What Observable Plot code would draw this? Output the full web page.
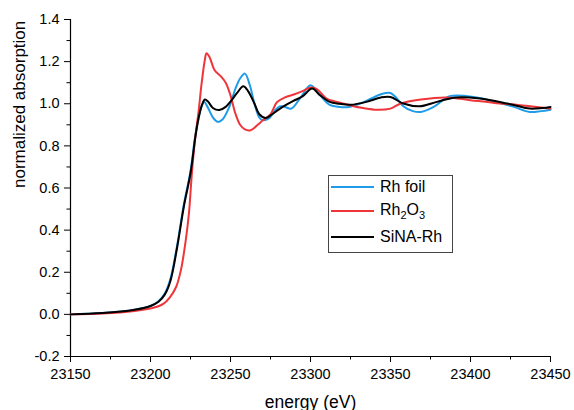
<!DOCTYPE html>
<html>
<head>
<meta charset="utf-8">
<script src="https://cdn.jsdelivr.net/npm/d3@7"></script>
<script src="https://cdn.jsdelivr.net/npm/@observablehq/plot@0.6"></script>
<style>
  body { margin: 0; background: #fff; }
  #wrap { position: relative; width: 574px; height: 410px; overflow: hidden; font-family: Arial, "Liberation Sans", sans-serif; }
  #legend { position: absolute; left: 328px; top: 175px; width: 125px; height: 78px; border: 1px solid #444; background: #fff; box-sizing: border-box; font-size: 16px; color: #000; }
  #legend .row { position: absolute; left: 2px; display: flex; align-items: center; }
  #legend .sw { display: inline-block; width: 43px; height: 0; border-top: 2px solid; margin-right: 6px; }
</style>
</head>
<body>
<div id="wrap"></div>
<script>
// Series names and colours
const seriesNames = ["Rh foil", "Rh2O3", "SiNA-Rh"];
const seriesColors = ["#1e9ce8", "#ef3539", "#000000"];

// Rh foil
const foilE = [23150,23170,23190,23200,23205,23209,23212.5,23216.7,23220.8,23225,23228,23230,23232,23233.5,23236,23239,23242,23245,23249,23253,23256,23259,23262,23265,23268,23270,23274,23278,23281,23284,23288,23294,23300,23306,23312,23318,23324,23331,23338,23344,23350,23354,23358,23364,23369,23377,23387,23398,23412,23427,23437,23444,23450];
const foilMu = [0,0.006,0.022,0.04,0.062,0.1,0.17,0.33,0.52,0.68,0.85,0.93,0.99,1.01,0.98,0.935,0.914,0.925,0.98,1.07,1.12,1.143,1.09,1.0,0.935,0.922,0.93,0.97,0.988,0.985,0.977,1.032,1.088,1.04,0.995,0.985,0.985,1.001,1.025,1.045,1.051,1.025,0.988,0.965,0.961,0.985,1.036,1.036,1.017,0.985,0.961,0.965,0.972];

// Rh2O3
const oxideE = [23150,23170,23190,23200,23204,23208,23212,23216,23219,23222,23224,23226,23228,23230,23232,23234,23235,23237,23240,23244,23247,23250,23253,23256,23259,23262.5,23267,23270,23275,23279,23284,23290,23295,23300,23304,23310,23316,23321,23331,23340,23350,23356,23369,23385,23400,23415,23431,23450];
const oxideMu = [0,0.004,0.016,0.028,0.036,0.05,0.08,0.13,0.21,0.35,0.478,0.684,0.842,0.96,1.1,1.21,1.24,1.22,1.16,1.13,1.1,1.04,0.955,0.9,0.878,0.874,0.9,0.92,0.95,1.007,1.03,1.045,1.06,1.077,1.07,1.025,1.01,1.0,0.982,0.972,0.977,1.0,1.02,1.03,1.017,1.004,0.993,0.977];

// SiNA-Rh
const sinaE = [23150,23170,23190,23200,23205,23209,23212.5,23216.7,23220.8,23225,23228,23230,23232,23234,23236,23239,23243,23247,23250,23254,23258,23261,23265,23268,23272,23276,23281,23289,23295,23301,23306,23312,23318,23325,23335,23344,23350,23358,23368,23379,23391,23406,23423,23437,23445,23450];
const sinaMu = [0,0.006,0.022,0.04,0.06,0.095,0.16,0.32,0.51,0.67,0.84,0.93,0.99,1.02,1.01,0.98,0.97,0.985,1.01,1.05,1.083,1.06,1.0,0.95,0.932,0.95,0.977,1.012,1.035,1.072,1.04,1.009,1.0,0.995,1.009,1.03,1.032,1.001,0.988,1.009,1.03,1.025,1.001,0.977,0.98,0.985];

// Ticks
const xTicks = [23150,23200,23250,23300,23350,23400,23450];
const xMinor = [23175,23225,23275,23325,23375,23425];
const yTicks = [-0.2,0,0.2,0.4,0.6,0.8,1.0,1.2,1.4];
const yMinor = [-0.1,0.1,0.3,0.5,0.7,0.9,1.1,1.3];

const allE = [foilE, oxideE, sinaE];
const allMu = [foilMu, oxideMu, sinaMu];
const rows = [];
seriesNames.forEach((s, i) => allE[i].forEach((e, j) => rows.push({series: s, energy: e, mu: allMu[i][j]})));

const chart = Plot.plot({
  width: 574,
  height: 410,
  marginLeft: 70,
  marginRight: 24,
  marginTop: 19,
  marginBottom: 54,
  style: {fontFamily: "Arial, 'Liberation Sans', sans-serif", fontSize: "14.5px", color: "#000", background: "#fff"},
  x: {domain: [23150, 23450]},
  y: {domain: [-0.2, 1.4]},
  marks: [
    Plot.axisX(xTicks, {tickSize: 6, tickPadding: 6, tickFormat: d => String(d), label: null}),
    Plot.axisX(xMinor, {tickSize: 3.5, text: null, label: null}),
    Plot.axisY(yTicks, {tickSize: 6, tickPadding: 5, tickFormat: d => d.toFixed(1), label: null}),
    Plot.axisY(yMinor, {tickSize: 3.5, text: null, label: null}),
    Plot.ruleX([23150], {stroke: "#000", strokeWidth: 1.2}),
    Plot.ruleY([-0.2], {stroke: "#000", strokeWidth: 1.2}),
    Plot.line(rows, {x: "energy", y: "mu", z: "series", stroke: "series", strokeWidth: 2, curve: "catmull-rom"}),
    Plot.text(["normalized absorption"], {frameAnchor: "left", dx: -51, rotate: -90, fontSize: 17}),
    Plot.text(["energy (eV)"], {frameAnchor: "bottom", dy: 51, fontSize: 17.5})
  ],
  color: {domain: seriesNames, range: seriesColors}
});

const wrap = document.getElementById("wrap");
wrap.appendChild(chart);

// Legend overlay
const legend = document.createElement("div");
legend.id = "legend";
const labels = ["Rh foil", "Rh<sub style='font-size:11px'>2</sub>O<sub style='font-size:11px'>3</sub>", "SiNA-Rh"];
const tops = [2, 25, 52];
seriesNames.forEach((s, i) => {
  const r = document.createElement("div");
  r.className = "row";
  r.style.top = tops[i] + "px";
  const sw = document.createElement("span");
  sw.className = "sw";
  sw.style.borderTopColor = seriesColors[i];
  const t = document.createElement("span");
  t.innerHTML = labels[i];
  r.appendChild(sw);
  r.appendChild(t);
  legend.appendChild(r);
});
wrap.appendChild(legend);
</script>
</body>
</html>
